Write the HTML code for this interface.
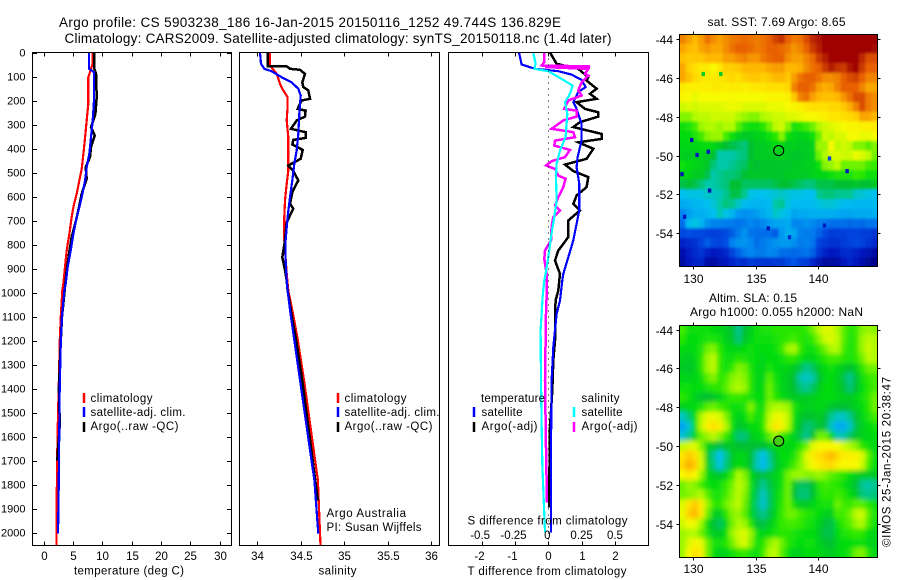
<!DOCTYPE html>
<html lang="en">
<head>
<meta charset="utf-8">
<title>Argo profile CS 5903238_186</title>
<style>
html,body{margin:0;padding:0;background:#fff;width:900px;height:580px;overflow:hidden}
svg{display:block}
text{font-family:"Liberation Sans",sans-serif;fill:#000;font-size:11.5px}
.title{font-size:13.5px}
.maptitle{font-size:12px}
</style>
</head>
<body>
<svg id="chart" xmlns="http://www.w3.org/2000/svg" width="900" height="580" viewBox="0 0 900 580">
<defs>
<clipPath id="clip-sst"><rect x="679.5" y="34.5" width="198" height="232"/></clipPath>
<clipPath id="clip-sla"><rect x="679.5" y="325.5" width="198" height="232"/></clipPath>
<filter id="soft-sst" x="-10%" y="-10%" width="120%" height="120%"><feGaussianBlur stdDeviation="1.3"/></filter>
<filter id="soft-sla" x="-10%" y="-10%" width="120%" height="120%"><feGaussianBlur stdDeviation="2.4"/></filter>
</defs>

<text class="title" x="59" y="27" textLength="502">Argo profile: CS 5903238_186 16-Jan-2015 20150116_1252 49.744S 136.829E</text>
<text class="title" x="64.5" y="43" textLength="547">Climatology: CARS2009. Satellite-adjusted climatology: synTS_20150118.nc (1.4d later)</text>

<g id="temperature-panel"></g>
<g id="salinity-panel"></g>
<g id="difference-panel"></g>
<g clip-path="url(#clip-sst)"><g id="sst-cells" filter="url(#soft-sst)"></g><g id="sst-specks"></g></g>
<g clip-path="url(#clip-sla)"><g id="sla-cells" filter="url(#soft-sla)"></g></g>
<g id="map-axes"></g>

<g>
<line x1="84" x2="84" y1="393" y2="403" stroke="#f00" stroke-width="2.5"/>
<line x1="84" x2="84" y1="407" y2="417" stroke="#00f" stroke-width="2.5"/>
<line x1="84" x2="84" y1="422" y2="432" stroke="#000" stroke-width="2.5"/>
<text x="90.5" y="402" textLength="62">climatology</text>
<text x="90.5" y="416" textLength="95">satellite-adj. clim.</text>
<text x="90.5" y="430" textLength="88">Argo(..raw -QC)</text>
</g>
<g>
<line x1="338" x2="338" y1="393" y2="403" stroke="#f00" stroke-width="2.5"/>
<line x1="338" x2="338" y1="407" y2="417" stroke="#00f" stroke-width="2.5"/>
<line x1="338" x2="338" y1="422" y2="432" stroke="#000" stroke-width="2.5"/>
<text x="344.5" y="402" textLength="62">climatology</text>
<text x="344.5" y="416" textLength="95">satellite-adj. clim.</text>
<text x="344.5" y="430" textLength="88">Argo(..raw -QC)</text>
<text x="326.5" y="517" textLength="79.5">Argo Australia</text>
<text x="326.5" y="531" textLength="95">PI: Susan Wijffels</text>
</g>
<g>
<text x="481" y="402" textLength="64">temperature</text>
<line x1="474" x2="474" y1="407" y2="417" stroke="#00f" stroke-width="2.5"/>
<text x="481.5" y="416" textLength="41">satellite</text>
<line x1="474" x2="474" y1="422" y2="432" stroke="#000" stroke-width="2.5"/>
<text x="481.5" y="430" textLength="56">Argo(-adj)</text>
<text x="581.5" y="402" textLength="38">salinity</text>
<line x1="574" x2="574" y1="407" y2="417" stroke="#0ff" stroke-width="2.5"/>
<text x="581.5" y="416" textLength="41">satellite</text>
<line x1="574" x2="574" y1="422" y2="432" stroke="#f0f" stroke-width="2.5"/>
<text x="581.5" y="430" textLength="56">Argo(-adj)</text>
</g>

<text x="74" y="574.5" textLength="110">temperature (deg C)</text>
<text x="318.5" y="574.5" textLength="38">salinity</text>
<text x="467.5" y="524.5" textLength="160">S difference from climatology</text>
<text x="467.5" y="575" textLength="159">T difference from climatology</text>
<text class="maptitle" x="707.5" y="26" textLength="138">sat. SST: 7.69  Argo: 8.65</text>
<text class="maptitle" x="709" y="302" textLength="88">Altim. SLA: 0.15</text>
<text class="maptitle" x="690" y="316" textLength="173">Argo h1000: 0.055 h2000: NaN</text>
<text transform="translate(890.5 547) rotate(-90)" textLength="170">©IMOS 25-Jan-2015 20:38:47</text>
</svg>

<script>
// ---------- axis ticks ----------
const depthTicks = [0,100,200,300,400,500,600,700,800,900,1000,1100,1200,1300,1400,1500,1600,1700,1800,1900,2000];
const tempTicks = [0,5,10,15,20,25,30];
const salTicks = [34,34.5,35,35.5,36];
const salTickLabels = ['34','34.5','35','35.5','36'];
const tDiffTicks = [-2,-1,0,1,2];
const sDiffTicks = [-0.5,-0.25,0,0.25,0.5];
const sDiffTickLabels = ['-0.5','-0.25','0','0.25','0.5'];
const lonTicks = [130,135,140];
const latTicks = [-44,-46,-48,-50,-52,-54];

// ---------- temperature profiles ----------
const tempClimDepth = [0,47,103,214,283,353,422,485,533,589,644,686,755,825,894,964,992,1100,1200,1400,1600,1830,2055];
const tempClimVal = [8.38,8.38,7.64,7.64,7.36,7.08,6.79,6.51,6.11,5.66,5.09,4.8,4.41,3.95,3.67,3.38,3.21,2.95,2.78,2.59,2.38,2.27,2.2];
const tempSatDepth = [0,68,82,200,283,353,422,478,533,589,644,686,755,825,894,964,992,1100,1200,1400,1850,2005];
const tempSatVal = [7.76,7.76,8.61,8.61,8.38,8.1,7.81,7.36,7.08,6.62,6.11,5.66,5.09,4.63,4.12,3.78,3.55,3.15,2.95,2.76,2.58,2.47];
const tempArgoDepth = [0,68,89,186,256,311,346,394,436,478,526,589,644,700,769,839,908,978,1100,1200,1400,1550,1700];
const tempArgoVal = [8.67,8.67,8.95,9.06,8.84,8.1,8.72,8.1,7.93,7.19,7.36,6.51,6.05,5.54,4.8,4.35,3.95,3.67,3.15,2.95,2.62,2.78,2.35];

// ---------- salinity profiles ----------
const salClimDepth = [0,54,89,131,158,186,228,283,353,422,492,547,617,686,783,922,992,1100,1200,1365,1783,2055];
const salClimVal = [34.149,34.149,34.226,34.264,34.302,34.352,34.352,34.341,34.36,34.36,34.36,34.341,34.322,34.314,34.314,34.341,34.36,34.42,34.47,34.54,34.7,34.73];
const salSatDepth = [0,47,68,78,103,124,151,179,256,339,408,464,533,603,686,783,867,950,992,1100,1200,1365,1783,2005];
const salSatVal = [34.034,34.046,34.084,34.168,34.283,34.398,34.475,34.502,34.486,34.475,34.456,34.429,34.406,34.379,34.352,34.329,34.329,34.341,34.352,34.39,34.43,34.494,34.66,34.705];
const salArgoDepth = [0,58,58,68,72,89,124,144,158,193,200,235,242,267,283,318,332,356,364,383,406,443,471,494,533,582,631,651,707,783,853,908,950,992,1100,1200,1365,1867];
const salArgoVal = [34.122,34.122,34.341,34.379,34.494,34.552,34.521,34.532,34.59,34.609,34.513,34.467,34.559,34.552,34.456,34.391,34.559,34.559,34.417,34.406,34.525,34.502,34.36,34.417,34.475,34.406,34.379,34.417,34.341,34.322,34.291,34.322,34.341,34.352,34.4,34.45,34.52,34.7];

// ---------- difference profiles ----------
const tDiffSatDepth = [0,50,68,78,92,114,144,165,207,235,297,367,436,478,547,658,714,783,853,922,950,1033,1089,1228,1367,1645,1999];
const tDiffSatVal = [-0.88,-0.8,-0.4,0.3,0.7,1,1.12,0.9,0.75,0.85,1,1,0.88,0.85,0.93,0.93,0.85,0.75,0.6,0.45,0.42,0.35,0.25,0.15,0.1,0.08,0.08];
const tDiffArgoDepth = [0,47,68,103,117,151,172,193,207,235,249,267,290,311,339,360,374,401,443,467,494,519,561,596,631,658,700,769,825,867,922,992,1033,1117,1200,1283,1408,1561,1895];
const tDiffArgoVal = [0.05,0.25,0.9,1.2,1.15,1.45,1.25,1.45,0.85,1.1,1.5,1.5,0.95,0.75,1.6,1.6,0.9,1.35,1.15,0.5,0.75,1.2,1.15,0.85,0.75,0.95,0.6,0.6,0.3,0.2,0.35,0.3,0.22,0.2,0.2,0.15,0.12,0.05,0.02];
const sDiffSatDepth = [0,47,68,78,110,138,172,207,256,353,408,464,519,617,686,769,853,922,950,1019,1089,1158,1367,1547,1714,1853,1999];
const sDiffSatVal = [-0.1125,-0.095,-0.105,0,0.1,0.1825,0.1625,0.125,0.1425,0.13,0.0875,0.0625,0.0575,0.0625,0.045,0.02,0,-0.02,-0.03,-0.0425,-0.05,-0.0575,-0.055,-0.05,-0.045,-0.035,-0.025];
const sDiffArgoDepth = [0,40,54,58,61,68,89,96,124,158,179,200,235,242,267,283,318,332,353,367,388,406,436,453,471,485,513,526,561,603,638,658,686,728,783,825,860,922,992,1019,1089,1367,1645,1874];
const sDiffArgoVal = [-0.03,-0.03,-0.05,0.3125,-0.025,0.3,0.275,0.3,0.25,0.225,0.25,0.15,0.12,0.2125,0.2125,0.1125,0.025,0.1875,0.2,0.05,0.045,0.1625,0.125,0.025,-0.0175,0.05,0.075,0.13,0.1125,0.075,0.05,0.0875,0.0375,0.025,0.02,-0.025,-0.03,-0.0125,-0.0125,-0.0125,-0.0175,-0.025,-0.0175,-0.01];

// ---------- float position ----------
const floatLon = [136.829];
const floatLat = [-49.744];

// ---------- SST heatmap (colour-scale level, north to south) ----------
const sstGrid = [
[8.6,8.3,8,8.3,8.8,8.5,8.3,8.5,8.7,8.8,8.9,8.8,8.7,8.8,9,9.3,9.5,9,8.7,8.8,9.2,9.6,9.8,10,10,10,10,10,10,10,10,10],
[8.2,8,7.9,8.2,8.4,8.2,8.2,8.5,8.8,9,9,8.9,8.7,8.8,9,9,8.9,8.7,8.4,8.6,9,9.4,9.7,10,10,10,10,10,10,10,10,9.9],
[7.9,7.8,7.8,7.8,8,8,8,8.3,8.3,8.5,8.6,8.4,8.4,8.7,8.9,9,9,8.5,8.3,8.3,8.6,8.9,9.4,9.7,10,10,10,10,10,9.6,9.2,9.2],
[8.2,7.7,7.5,7.3,7.3,7,7.4,7.7,7.7,7.8,8,8,8,8,8.2,8.3,8.3,8,8,8.1,8.5,8.8,9,9.4,9.7,9.5,9.4,9.8,10,9.4,9,9],
[8.2,7.9,7.6,7.4,7.3,7.3,7.4,7.5,7.6,7.5,7.7,7.8,7.8,7.7,7.8,8,8,7.8,8.3,8.8,9,9,8.8,8.5,8.5,8.6,9,9.2,9.3,9,8.6,8.6],
[7.3,7.2,7.2,7.2,7.2,7.3,7.3,7.2,7.3,7.3,7.2,7.3,7.4,7.4,7.5,7.5,7.5,7.6,8.6,9,9,8.8,8.3,8.1,8.2,8.6,9,9,9,8.6,8.2,8.2],
[7.1,7,6.9,7,7,7,7,7,7,7,7,7,7,7,7.1,7.1,7.1,7.2,7.8,8.6,8.8,8.3,8,7.9,7.9,8,8.4,8.8,9.2,9.2,8.7,8.5],
[6.7,6.8,6.7,6.8,6.8,6.8,6.8,6.9,6.9,6.9,6.8,6.8,6.8,6.8,6.9,6.9,6.9,7,7.1,7.2,7.4,7.5,7.5,7.5,7.6,7.6,7.8,8.1,8.6,9.2,8.7,8.5],
[6.3,6.3,6.5,6.6,6.6,6.7,6.7,6.7,6.7,6.5,6.4,6.3,6.3,6.5,6.6,6.7,6.7,6.8,6.8,6.9,7,7,7.1,7.2,7.4,7.4,7.5,7.6,7.7,8.2,8.2,8],
[5.6,5.7,6,6.4,6.5,6.5,6.4,6.5,6.5,6.1,5.7,5.6,5.6,5.8,6.2,6.6,6.7,6.3,5.7,5.8,6,6.2,6.5,6.7,6.8,6.9,7,7.1,7.1,7.2,7.2,7.3],
[5.5,5.5,5.7,6,6.3,6.4,6.4,6,5.6,5.3,5.2,5.2,5.3,5.4,5.6,5.8,6.3,5.6,5.4,5.3,5.4,5.6,6.2,6.7,6.6,6.8,6.8,7,7,6.9,6.9,7],
[5.4,5.4,5.4,5.5,5.5,5.4,5.2,5,4.9,4.8,4.7,5,5.2,5.2,5.3,5.5,5.4,5.2,5.3,5.2,5.2,5.3,6.4,6.4,7,6.6,6.7,6.6,6.3,6.3,6.1,6.3],
[5.3,5.2,5.3,5.3,5.2,5,4.5,4.5,4.5,4.6,4.7,5,5.2,5.2,5.2,5.2,5.3,5.2,5.1,5.1,5.2,5.3,6.2,6.5,6.8,6.8,6.7,6.7,6.9,6.8,6.6,6.2],
[5.6,5.5,5.4,5.3,5.1,4.7,4.5,4.5,4.6,4.7,4.8,5.1,5,5.1,5.1,5.1,5.1,5.1,5.2,5.2,5.3,5.3,5.6,6.3,6.4,6.6,6.2,6.2,6.2,6.2,6,5.9],
[5.4,5.4,5.2,5.2,4.9,4.5,4.6,4.7,4.7,4.8,5,5.1,5.1,5.1,5.1,5.1,5.1,5.2,5.2,5.2,5.2,5.3,5.4,5.4,5.6,5.7,5.7,5.7,5.9,5.8,5.6,5.6],
[4.9,5,4.9,4.7,4.5,4.5,4.6,4.7,5,5,4.8,4.8,4.8,4.8,4.8,4.9,5,5,4.9,4.8,4.7,4.7,4.9,4.9,4.9,5,5,5,5.1,5,5,5.2],
[4,4.1,4.1,4.1,4.3,4.3,4.4,4.6,4.9,4.9,4.6,4.1,4,4,4.1,4.2,4.3,4.2,4.1,4.1,4,4,4.6,4.7,4.7,4.6,4.6,4.6,4.3,4.2,4.1,4],
[3.6,3.7,3.8,3.9,4,4.2,4.5,4.7,4.6,4.3,3.9,3.8,3.8,3.8,3.9,4.5,4.6,4.1,3.9,3.9,3.9,3.9,4.1,4.2,4.2,4.1,3.9,3.9,3.8,3.8,3.8,3.9],
[3,3.4,3.7,3.7,3.8,4,4.4,4.1,3.8,3.3,3.1,3.2,3.4,3.6,3.8,4.3,4.1,3.9,3.5,3.6,3.6,3.7,3.7,3.7,3.7,3.6,3.5,3.5,3.6,3.6,3.6,3.7],
[2.6,3.9,4.1,3.8,3.2,2.9,2.9,2.8,2.8,2.7,2.8,3,2.8,3,3.3,3.5,3.5,3.6,3,3,3.2,3,2.8,2.8,2.6,2.6,2.6,2.5,2.6,2.5,2.7,2.7],
[2,2.1,2,2,1.9,1.8,1.9,2,2.3,2.8,3.2,2.7,2.6,2.6,2.6,2.3,3.3,3.7,3.5,2.9,2.8,2.8,2.4,2,1.7,1.8,1.8,1.9,1.9,1.8,1.8,1.6],
[1.2,1.4,1.5,1.9,2.3,2,1.9,2.1,2.9,3.2,3.2,3,2.6,2.8,3,3.2,3.3,3.3,3.1,2.8,2.9,2.7,1.9,1.7,1.5,1.5,1.7,1.9,2,1.9,1.6,1.4],
[0.7,1.1,1.4,1.6,1.2,1,1.1,1.3,1.9,2.4,2.8,3,2.8,2.8,3,2.9,2.6,2.6,2.5,2.6,2.7,2.4,1.6,1.2,1,1.1,1.4,1.4,1.2,1,0.8,0.5],
[0.5,1,1.2,1.3,0.6,0.5,0.8,1,1.3,1.5,1.4,1.7,1.6,1.6,1.6,1.7,1.7,2,2.2,1.9,1.8,1.3,0.8,0.5,0.5,0.6,0.9,1.2,1,0.7,0.3,0.2]
];
const sstSpeckLon = [129.87,130.3,131.2,129.1,132.2,130.8,131.3,140.9,142.3,136,137.7,140.5,129.3];
const sstSpeckLat = [-49.2,-49.97,-49.8,-50.96,-45.8,-45.8,-51.8,-50.15,-50.8,-53.75,-54.2,-53.6,-53.15];
const sstSpeckLevel = [0.8,1,1,0.8,5.2,5.2,0.8,2,1,1,1.5,1,1];

// ---------- sea-level anomaly heatmap (colour-scale level, north to south) ----------
const slaGrid = [
[6,5.6,5.6,5.6,5.6,5.5,5.4,5.2,5,4.6,5,5.3,5.6,5.7,5.7,5.8,5.8,5.8,5.8,5.8,5.9,6.2,6.6,6.8,6.8,6.5,6.1,5.8,5.9,6.3,6.4,6.3],
[5.8,5.5,5.5,5.6,5.7,5.7,5.6,5.3,5.1,4.7,5.1,5.4,5.6,5.6,5.6,5.7,5.8,5.9,6,5.8,5.7,5.9,6.3,6.7,6.8,6.6,6.1,5.7,5.9,6.4,6.6,6.5],
[5.5,5.4,5.5,5.7,6.2,6.3,5.8,5.5,5.4,5.4,5.5,5.6,5.5,5.5,5.5,5.6,5.9,6.4,6.5,5.9,5.6,5.6,5.9,6.2,6.5,6.5,6,5.7,5.9,6.4,6.7,6.5],
[5.3,5.2,5.4,5.8,6.4,6.6,5.9,5.6,5.6,5.8,5.7,5.6,5.5,5.4,5.5,5.5,5.6,5.8,5.8,5.6,5.4,5.4,5.6,5.8,6,6,5.8,5.7,5.8,6.2,6.6,6.5],
[5.2,5.1,5.3,5.8,6.4,6.6,5.9,5.6,5.9,6.3,6.2,5.7,5.4,5.4,5.7,5.5,5.4,5.4,5.2,4.9,4.6,4.8,5.2,5.5,5.6,5.4,5.2,5,5.3,5.8,6.2,6.2],
[5.4,5.3,5.4,5.6,6.1,6.3,5.8,6,6.3,6.4,6.3,5.8,5.4,5.4,6.1,5.6,5.4,5.2,5,4.5,4.3,4.5,5,5.4,5.5,5.3,4.9,4.6,5,5.6,5.9,6],
[5.6,5.6,5.5,5.5,5.7,5.8,5.8,6.1,6.4,6.5,6.4,5.8,5.4,5.5,6.2,5.7,5.4,5.2,5,4.7,4.6,4.8,5.2,5.5,5.5,5.3,5,4.7,5,5.5,5.8,6],
[5.8,5.6,5.3,5.1,5,5.1,5.4,5.7,5.9,5.9,5.8,5.7,5.5,5.5,6.2,5.8,5.5,5.3,5.2,5.2,5.2,5.3,5.4,5.5,5.5,5.4,5.3,5.2,5.4,5.6,5.9,6.2],
[5.3,5.4,5.5,5.7,6.1,6.2,6,5.8,5.6,5.6,5.7,6.3,5.7,5.6,6.4,6.5,6.5,6.4,5.7,5.4,5.3,5.3,5.4,5.3,5.1,5,5,5.1,5.3,5.5,5.8,6.2],
[4.3,4.7,5.5,6.5,6.9,6.9,6.8,6.3,5.6,5.3,5.5,6,5.6,5.8,6.6,6.9,6.9,6.6,5.6,5.2,5,5.1,5.2,5,4.6,4.3,4.3,4.6,5,5.4,5.7,6],
[3.5,4.2,5.5,6.6,7.2,7.5,7.2,6.5,5.6,5.1,5.2,5.5,5.5,5.8,6.7,7.4,7.1,6.5,5.5,5,4.7,4.8,5.1,4.9,4.3,3.6,3.6,4.3,4.9,5.3,5.5,5.6],
[4.2,4.6,5.4,6.2,6.4,6.6,6.3,5.9,5.4,4.7,4.7,5.2,5.4,5.6,6.1,6.4,5.9,5.6,5.3,4.9,4.6,5,6.2,6.2,5.4,4.4,4.4,4.8,5.1,5.3,5.4,5.5],
[6.6,6.8,6.8,6.3,5.4,5.1,4.9,5.1,5.2,5,5,5,5,5,5.2,5.4,5.5,5.4,5.5,5.8,6.2,6.8,7,7,7,7,6.7,6.5,6.3,5.8,5.6,5.4],
[7.4,7.8,7.5,6.7,5.2,4.6,4,4.6,5.2,5.4,5.4,5,4.5,4,4.6,5.1,5.5,5.5,5.7,6.2,6.8,7.3,7.5,7.7,8,7.6,7.2,7.2,7.1,6.8,6.1,5.5],
[7.6,8.1,7.8,6.8,5.3,4.7,4.1,4.7,5.2,5.5,5.4,5,4.4,3.9,4.5,5.1,5.4,5.6,6,6.3,6.7,7,7.3,7.5,7.6,7.2,7,7.1,7,6.7,6,5.5],
[7,7.4,7,6.4,5.5,5.2,5.1,5.4,5.9,6.5,6.3,5.5,5,4.9,5.1,5.3,5.6,6.2,6.4,6.4,6.3,6.3,6.4,6.3,6.1,6,5.8,5.5,5.3,5.2,5.2,5.2],
[6.2,6.4,6.3,6,5.6,5.5,5.6,5.9,6.2,6.6,6.4,5.6,4.9,4.6,4.9,5.3,5.6,6.2,5.2,4.8,4.8,5,5.8,6,5.9,5.8,5.6,5.3,5,4.6,4.5,4.6],
[6.2,6.3,6.4,6.5,6.1,5.7,5.7,6,6.3,6.6,6.3,5.5,4.8,4.3,4.8,5.4,5.7,6.2,5,4.7,4.7,5,5.7,5.9,5.8,6,5.8,5.5,5.2,4.7,4.6,4.7],
[6.8,7.4,7.8,7.2,6.4,5.9,5.8,6.2,6.4,6.6,6.2,5.4,4.7,4.2,4.8,5.4,5.8,6.2,5.6,5.2,5.2,5.4,5.6,5.7,5.6,6.2,6,5.9,6.1,6.1,5.8,5.6],
[6.9,7.7,8,7.3,6.2,5.3,5.2,5.8,6.3,6.4,6.1,5.4,4.8,4.6,4.9,5.4,5.9,6.2,6.2,6,5.8,5.7,5.5,5.3,5.3,6,6,6.2,6.6,6.7,6.1,5.7],
[6.7,7,6.9,6.4,5.5,5,4.8,5.4,6.2,6.5,6.4,5.8,5,4.9,5.2,5.6,5.9,6,6,5.9,5.7,5.6,5.3,5,4.9,5.6,5.9,6.1,6.4,6.5,6,5.6],
[6.4,6.5,6.5,6.2,5.7,5.2,5.2,5.6,6.4,6.7,6.8,6.4,5.6,5.4,5.5,5.7,5.8,5.8,5.7,5.6,5.5,5.5,5.2,4.9,4.9,5.5,5.7,5.8,5.9,5.8,5.5,5.4],
[6.4,6.8,7.1,6.9,6.2,5.7,5.6,5.8,6.2,6.6,6.8,6.3,5.6,5.8,6.3,6.5,6.2,5.8,5.6,5.5,5.6,5.6,5.3,5.1,5,5.4,5.5,5.5,5.6,5.6,5.4,5.3],
[6.4,7,7.5,7.2,6.2,5.5,5.3,5.4,5.6,5.8,5.9,5.7,5.5,6,6.5,6.6,6.1,5.6,5.3,5.3,5.5,5.5,5.4,5.3,5.2,5.4,5.5,5.7,6.2,6.3,5.7,5.4]
];

// ---------- scales ----------
const NS = 'http://www.w3.org/2000/svg';
const depthY = d => 52.5 + d * 0.24;
const tempX = t => 43.5 + t * 5.87;
const salX = s => 257 + (s - 34) * 87;
const tDiffX = t => 548.3 + t * 33.33;
const sDiffX = s => 548.3 + s * 133.32;
const lonX = lon => 693.3 + (lon - 130) * 12.5;
const latY = (lat, top) => top + (-44 - lat) * 19.43;
const sstTop = 39;
const slaTop = 329.5;
const mapLonMin = 128.9, mapLonMax = 144.75, mapLatN = -43.74;

const colorStops = [[0,0,0,127],[1,0,24,192],[2,0,72,224],[3,0,136,240],[4,0,192,240],[4.5,0,200,168],[5,0,192,48],[5.5,0,220,16],[6,64,236,0],[6.5,176,250,0],[7,248,250,0],[7.5,255,224,0],[8,255,184,0],[9,232,96,0],[10,160,0,0]];
function levelColor(v) {
  let a = colorStops[0], b = colorStops[colorStops.length - 1];
  if (v <= a[0]) return 'rgb(' + a[1] + ',' + a[2] + ',' + a[3] + ')';
  if (v >= b[0]) return 'rgb(' + b[1] + ',' + b[2] + ',' + b[3] + ')';
  for (let i = 1; i < colorStops.length; i++) {
    if (v <= colorStops[i][0]) { a = colorStops[i - 1]; b = colorStops[i]; break; }
  }
  const f = (v - a[0]) / (b[0] - a[0]);
  return 'rgb(' + Math.round(a[1] + (b[1] - a[1]) * f) + ',' + Math.round(a[2] + (b[2] - a[2]) * f) + ',' + Math.round(a[3] + (b[3] - a[3]) * f) + ')';
}

function svgEl(tag, attrs, parent) {
  const el = document.createElementNS(NS, tag);
  for (const k in attrs) el.setAttribute(k, attrs[k]);
  parent.appendChild(el);
  return el;
}
function drawSeries(parent, depths, vals, xFn, color, width) {
  const pts = depths.map((d, i) => xFn(vals[i]).toFixed(1) + ',' + depthY(d).toFixed(1)).join(' ');
  return svgEl('polyline', {points: pts, fill: 'none', stroke: color, 'stroke-width': width, 'stroke-linejoin': 'miter', 'shape-rendering': 'crispEdges'}, parent);
}
function frame(parent, x0, y0, x1, y1) {
  const r = svgEl('rect', {x: x0, y: y0, width: x1 - x0, height: y1 - y0, fill: 'none', stroke: '#000', 'stroke-width': 1, 'shape-rendering': 'crispEdges'}, parent);
  
  
}
function tick(parent, x1, y1, x2, y2) {
  const l = svgEl('line', {x1: x1, y1: y1, x2: x2, y2: y2, stroke: '#000', 'stroke-width': 1, 'shape-rendering': 'crispEdges'}, parent);
  
  
}
function label(parent, x, y, str, anchor, size) {
  const t = svgEl('text', {x: x, y: y, 'text-anchor': anchor, style: 'font-size:' + (size || 11.5) + 'px'}, parent);
  t.textContent = str;
  
  
}

const TOP = 52.5, BOT = 545.5;

// ---------- panel 1: temperature ----------
const p1 = document.getElementById('temperature-panel');
const l1 = drawSeries(p1, tempClimDepth, tempClimVal, tempX, '#f00', 2.2);


const l2 = drawSeries(p1, tempArgoDepth, tempArgoVal, tempX, '#000', 2.5);


const l3 = drawSeries(p1, tempSatDepth, tempSatVal, tempX, '#00f', 2.2);


frame(p1, 32.5, TOP, 231.5, BOT);
depthTicks.forEach(d => {
  const y = Math.round(depthY(d)) + 0.5;
  tick(p1, 32.5, y, 37, y);
  tick(p1, 227, y, 231.5, y);
  label(p1, 25.5, y + 3, String(d), 'end', 11);
});
tempTicks.forEach(t => {
  const x = Math.round(tempX(t)) + 0.5;
  tick(p1, x, TOP, x, TOP + 4);
  tick(p1, x, BOT - 4, x, BOT);
  label(p1, x, 560, String(t), 'middle');
});

// ---------- panel 2: salinity ----------
const p2 = document.getElementById('salinity-panel');
const l4 = drawSeries(p2, salClimDepth, salClimVal, salX, '#f00', 2.2);


const l5 = drawSeries(p2, salArgoDepth, salArgoVal, salX, '#000', 2.5);


const l6 = drawSeries(p2, salSatDepth, salSatVal, salX, '#00f', 2.2);


frame(p2, 239.5, TOP, 439.5, BOT);
salTicks.forEach((s, i) => {
  const x = Math.round(salX(s)) + 0.5;
  tick(p2, x, TOP, x, TOP + 4);
  tick(p2, x, BOT - 4, x, BOT);
  label(p2, x, 560, salTickLabels[i], 'middle');
});

// ---------- panel 3: differences ----------
const p3 = document.getElementById('difference-panel');
const l7 = drawSeries(p3, tDiffArgoDepth, tDiffArgoVal, tDiffX, '#000', 2.5);


const l8 = drawSeries(p3, tDiffSatDepth, tDiffSatVal, tDiffX, '#00f', 2.2);


const l9 = drawSeries(p3, sDiffArgoDepth, sDiffArgoVal, sDiffX, '#f0f', 2.5);


const l10 = drawSeries(p3, sDiffSatDepth, sDiffSatVal, sDiffX, '#0ff', 2.2);


const zeroLine = svgEl('line', {x1: 548.5, x2: 548.5, y1: TOP, y2: BOT, stroke: '#000', 'stroke-width': 1, 'stroke-dasharray': '1 5', 'shape-rendering': 'crispEdges'}, p3);


frame(p3, 448.5, TOP, 648.5, BOT);
tDiffTicks.forEach(t => {
  const x = Math.round(tDiffX(t)) + 0.5;
  tick(p3, x, TOP, x, TOP + 4);
  tick(p3, x, BOT - 4, x, BOT);
  label(p3, x - (t < 0 ? 3 : 0), 560, String(t), 'middle');
});
sDiffTicks.forEach((s, i) => {
  label(p3, sDiffX(s) - (s < 0 ? 1.5 : 0) - (s === 0 ? 1 : 0), 539, sDiffTickLabels[i], 'middle');
});

// ---------- maps ----------
function drawGrid(parent, grid, top) {
  const rows = grid.length, cols = grid[0].length;
  const dLon = (mapLonMax - mapLonMin) / cols;
  const dLat = 12 / rows;
  grid.forEach((row, r) => {
    row.forEach((v, c) => {
      const x0 = lonX(mapLonMin + c * dLon) - (c === 0 ? 8 : 0);
      const x1 = lonX(mapLonMin + (c + 1) * dLon) + (c === cols - 1 ? 8 : 0.3);
      const y0 = latY(mapLatN - r * dLat, top) - (r === 0 ? 8 : 0);
      const y1 = latY(mapLatN - (r + 1) * dLat, top) + (r === rows - 1 ? 8 : 0.3);
      const cell = svgEl('rect', {x: x0.toFixed(2), y: y0.toFixed(2), width: (x1 - x0).toFixed(2), height: (y1 - y0).toFixed(2), fill: levelColor(v)}, parent);
      
      
    });
  });
}
drawGrid(document.getElementById('sst-cells'), sstGrid, sstTop);
drawGrid(document.getElementById('sla-cells'), slaGrid, slaTop);

const specks = document.getElementById('sst-specks');
sstSpeckLon.forEach((lon, i) => {
  const s = svgEl('rect', {x: (lonX(lon) - 1.7).toFixed(1), y: (latY(sstSpeckLat[i], sstTop) - 2.1).toFixed(1), width: 3.4, height: 4.2, fill: levelColor(sstSpeckLevel[i])}, specks);
  
  
});

const mapAxes = document.getElementById('map-axes');
function mapFrame(y0, y1, top, tickBaseline) {
  frame(mapAxes, 679.5, y0, 877.5, y1);
  latTicks.forEach(lat => {
    const y = Math.round(latY(lat, top)) + 0.5;
    tick(mapAxes, 676.5, y, 679.5, y);
    tick(mapAxes, 877.5, y, 880.5, y);
    label(mapAxes, 673, y + 4.5, String(lat), 'end', 12);
  });
  lonTicks.forEach(lon => {
    const x = Math.round(lonX(lon)) + 0.5;
    tick(mapAxes, x, y0 - 3, x, y0);
    tick(mapAxes, x, y1, x, y1 + 3);
    label(mapAxes, x, tickBaseline, String(lon), 'middle', 12);
  });
}
mapFrame(34.5, 266.5, sstTop, 283);
mapFrame(325.5, 557.5, slaTop, 573);

const sstMarker = svgEl('circle', {cx: lonX(floatLon[0]).toFixed(1), cy: latY(floatLat[0], sstTop).toFixed(1), r: 5, fill: 'none', stroke: '#000', 'stroke-width': 1.1}, mapAxes);


const slaMarker = svgEl('circle', {cx: lonX(floatLon[0]).toFixed(1), cy: latY(floatLat[0], slaTop).toFixed(1), r: 5, fill: '#40d010', stroke: '#000', 'stroke-width': 1.1}, mapAxes);


</script>
</body>
</html>
